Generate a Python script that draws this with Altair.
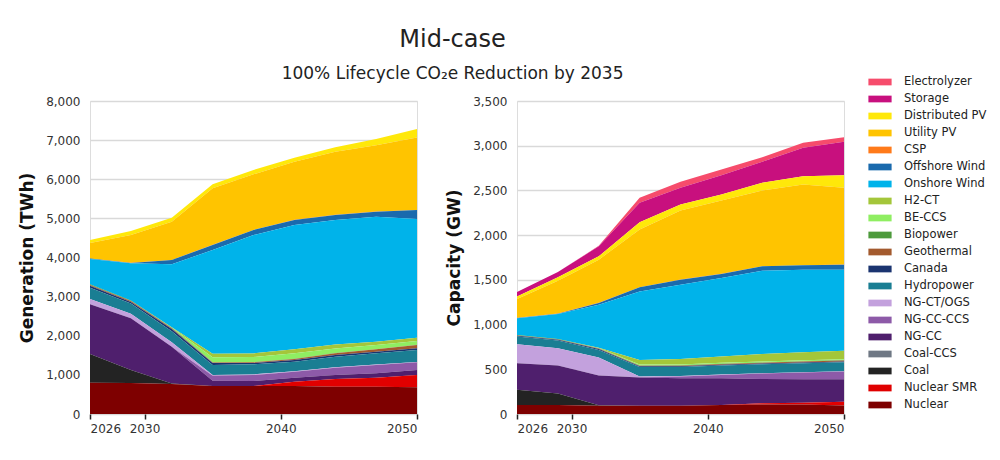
import altair as alt
import pandas as pd

years = [2026, 2029, 2032, 2035, 2038, 2041, 2044, 2047, 2050]

techs = ["Electrolyzer", "Storage", "Distributed PV", "Utility PV", "CSP",
         "Offshore Wind", "Onshore Wind", "H2-CT", "BE-CCS", "Biopower",
         "Geothermal", "Canada", "Hydropower", "NG-CT/OGS", "NG-CC-CCS",
         "NG-CC", "Coal-CCS", "Coal", "Nuclear SMR", "Nuclear"]

colors = ["#f64c6c", "#c8107e", "#ffe80a", "#ffc400", "#ff7a1a",
          "#1a6aad", "#00b3ea", "#a4c63a", "#8fee62", "#4d9a3c",
          "#a35a2e", "#1b3470", "#1a7e93", "#c3a1dd", "#8d5aa8",
          "#4f1f6d", "#6f7884", "#232323", "#e00000", "#7e0000"]

# Generation (TWh)
gen_nuclear = [800, 790, 767, 716, 716, 716, 699, 699, 682]
gen_smr = [0, 0, 0, 0, 0, 110, 196, 230, 315]
gen_coal = [733, 335, 10, 0, 0, 0, 0, 0, 0]
gen_coalccs = [0, 0, 0, 0, 0, 0, 0, 0, 0]
gen_ngcc = [1270, 1320, 944, 136, 127, 103, 102, 110, 128]
gen_ngccccs = [0, 0, 0, 128, 154, 153, 187, 213, 196]
gen_ngct = [137, 120, 111, 15, 15, 10, 10, 10, 10]
gen_hydro = [289, 260, 280, 257, 258, 246, 271, 289, 305]
gen_canada = [50, 40, 60, 50, 35, 42, 43, 42, 42]
gen_geo = [20, 20, 20, 15, 15, 26, 43, 60, 86]
gen_bio = [20, 15, 10, 5, 5, 5, 5, 5, 5]
gen_beccs = [0, 0, 10, 130, 130, 140, 120, 105, 97]
gen_h2ct = [0, 0, 5, 85, 94, 102, 103, 85, 85]
gen_onshore = [643, 951, 1609, 2655, 3026, 3178, 3180, 3196, 3033]
gen_offshore = [10, 10, 110, 128, 128, 128, 128, 128, 230]
gen_csp = [3, 3, 3, 3, 3, 3, 3, 3, 3]
gen_upv = [395, 711, 977, 1445, 1420, 1488, 1615, 1695, 1848]
gen_dpv = [77, 102, 102, 102, 111, 102, 110, 160, 220]
gen_storage = [0, 0, 0, 0, 0, 0, 0, 0, 0]
gen_elec = [0, 0, 0, 0, 0, 0, 0, 0, 0]

# Capacity (GW)
cap_nuclear = [100, 100, 93, 93, 93, 100, 105, 105, 95]
cap_smr = [0, 0, 0, 0, 0, 2, 15, 22, 43]
cap_coal = [170, 130, 5, 0, 0, 0, 0, 0, 0]
cap_coalccs = [0, 0, 0, 0, 0, 0, 0, 0, 0]
cap_ngcc = [298, 312, 332, 314, 307, 298, 272, 261, 250]
cap_ngccccs = [0, 0, 0, 5, 18, 37, 60, 75, 86]
cap_ngct = [213, 194, 201, 8, 8, 6, 5, 5, 5]
cap_hydro = [86, 86, 86, 105, 100, 100, 100, 100, 100]
cap_canada = [8, 8, 10, 8, 8, 8, 8, 8, 8]
cap_geo = [4, 4, 5, 6, 6, 7, 8, 10, 12]
cap_bio = [4, 4, 4, 4, 4, 4, 4, 4, 4]
cap_beccs = [0, 0, 3, 10, 10, 10, 10, 10, 10]
cap_h2ct = [0, 0, 2, 50, 62, 70, 85, 91, 93]
cap_onshore = [189, 279, 480, 768, 829, 878, 930, 922, 907]
cap_offshore = [2, 5, 20, 45, 56, 45, 49, 49, 57]
cap_csp = [2, 2, 2, 2, 2, 2, 2, 2, 2]
cap_upv = [209, 366, 483, 644, 772, 820, 846, 902, 858]
cap_dpv = [30, 38, 37, 82, 67, 67, 86, 93, 140]
cap_storage = [48, 59, 112, 217, 187, 216, 235, 318, 374]
cap_elec = [0, 0, 5, 56, 67, 64, 52, 56, 52]

gen_series = [gen_elec, gen_storage, gen_dpv, gen_upv, gen_csp, gen_offshore,
              gen_onshore, gen_h2ct, gen_beccs, gen_bio, gen_geo, gen_canada,
              gen_hydro, gen_ngct, gen_ngccccs, gen_ngcc, gen_coalccs, gen_coal,
              gen_smr, gen_nuclear]
cap_series = [cap_elec, cap_storage, cap_dpv, cap_upv, cap_csp, cap_offshore,
              cap_onshore, cap_h2ct, cap_beccs, cap_bio, cap_geo, cap_canada,
              cap_hydro, cap_ngct, cap_ngccccs, cap_ngcc, cap_coalccs, cap_coal,
              cap_smr, cap_nuclear]


def frame(series):
    rows = []
    n = len(techs)
    for i, (t, vals) in enumerate(zip(techs, series)):
        for y, v in zip(years, vals):
            rows.append({"tech": t, "year": y, "value": v, "ord": n - 1 - i})
    return pd.DataFrame(rows)


df_gen = frame(gen_series)
df_cap = frame(cap_series)

legend_symbol = "M-1.45,-0.42L1.45,-0.42L1.45,0.42L-1.45,0.42Z"

color_enc = alt.Color(
    "tech:N",
    scale=alt.Scale(domain=techs, range=colors),
    sort=techs,
    legend=alt.Legend(
        title=None, orient="none", legendX=782, legendY=-27,
        symbolType=legend_symbol, symbolSize=256, symbolStrokeWidth=0,
        symbolOpacity=1, labelFontSize=11.5, labelColor="#222222",
        labelFont="DejaVu Sans", rowPadding=3, labelOffset=16,
        labelLimit=200,
    ),
)

x_enc = alt.X(
    "year:Q",
    scale=alt.Scale(domain=[2026, 2050], nice=False, zero=False),
    axis=alt.Axis(values=[2026, 2030, 2040, 2050], format="d", title=None,
                  grid=False, domain=False, tickColor="#222222", tickSize=5,
                  tickWidth=1.5, labelFontSize=12, labelColor="#333333",
                  labelPadding=4, labelFont="DejaVu Sans"),
)


def yaxis(title, vals):
    return alt.Axis(values=vals, format=",.0f", title=title, grid=True,
                    gridColor="#d9d9d9", gridWidth=1.6, domain=False,
                    ticks=False, labelFontSize=12, labelColor="#333333",
                    labelPadding=10, labelFont="DejaVu Sans",
                    titleFontSize=17, titleFontWeight="bold",
                    titleColor="#111111", titleFont="DejaVu Sans",
                    titlePadding=9)


left = alt.Chart(df_gen).mark_area(opacity=1, strokeWidth=0).encode(
    x=x_enc,
    y=alt.Y("value:Q", stack="zero",
            scale=alt.Scale(domain=[0, 8000], nice=False),
            axis=yaxis("Generation (TWh)", list(range(0, 8001, 1000)))),
    color=color_enc,
    order=alt.Order("ord:Q", sort="ascending"),
).properties(width=327, height=313)

right = alt.Chart(df_cap).mark_area(opacity=1, strokeWidth=0).encode(
    x=x_enc,
    y=alt.Y("value:Q", stack="zero",
            scale=alt.Scale(domain=[0, 3500], nice=False),
            axis=yaxis("Capacity (GW)", list(range(0, 3501, 500)))),
    color=color_enc,
    order=alt.Order("ord:Q", sort="ascending"),
).properties(width=327, height=313)

chart = alt.hconcat(left, right, spacing=26).properties(
    title=alt.TitleParams(
        text="Mid-case",
        subtitle="100% Lifecycle CO\u2082e Reduction by 2035",
        anchor="middle", fontSize=24, fontWeight="normal",
        font="DejaVu Sans", color="#222222",
        subtitleFontSize=17, subtitleFont="DejaVu Sans",
        subtitleColor="#222222", subtitlePadding=14, offset=-8, dx=-50,
    ),
    padding={"left": 10, "top": 20, "right": 5, "bottom": 5},
).configure_view(stroke=None).configure(background="white")

chart.save("out.html", embed_options={"renderer": "svg", "actions": False})
